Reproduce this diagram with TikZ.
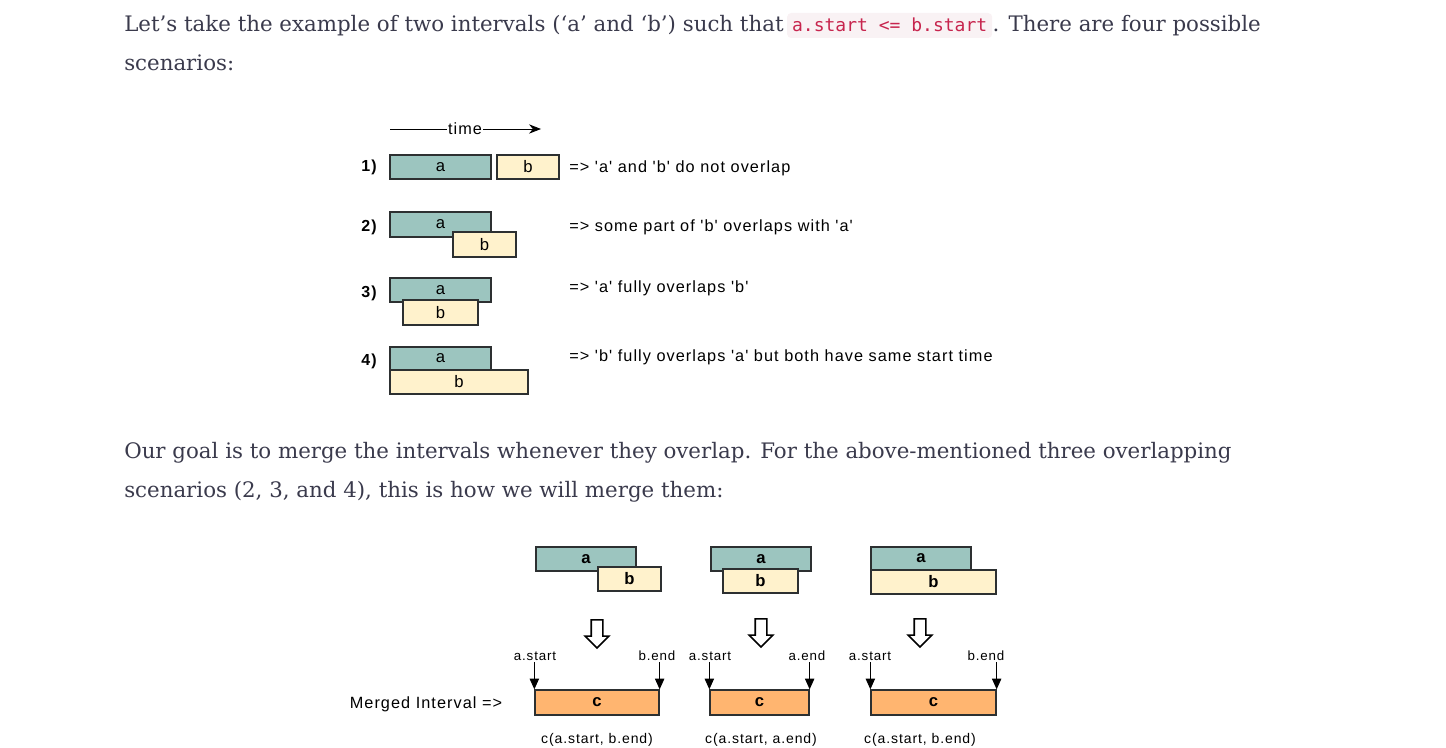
\documentclass[tikz,border=0pt]{standalone}
\usepackage{fontspec}
\setmainfont{Liberation Sans}
\newfontfamily\diagfont[LetterSpace=6.5]{Liberation Sans}
\newfontfamily\bodyfont{DejaVu Serif}
\newfontfamily\codefont{DejaVu Sans Mono}
\usetikzlibrary{arrows.meta,shapes.arrows}
\definecolor{acol}{RGB}{156,197,191}
\definecolor{bcol}{RGB}{255,242,204}
\definecolor{ccol}{RGB}{255,181,112}
\definecolor{edge}{RGB}{45,48,49}
\definecolor{prose}{RGB}{58,58,76}
\definecolor{codered}{RGB}{199,37,78}
\definecolor{codebg}{RGB}{249,242,244}
\newdimen\px \px=0.75pt
\tikzset{
  ivl/.style={draw=edge, line width=1.3\px, inner sep=0pt, font=\diagfont\fontsize{12.5}{14}\selectfont},
  aivl/.style={ivl, fill=acol},
  bivl/.style={ivl, fill=bcol},
  civl/.style={ivl, fill=ccol},
  boldivl/.style={font=\diagfont\bfseries\fontsize{12.5}{14}\selectfont},
  tag/.style={font=\diagfont\bfseries\fontsize{12}{14}\selectfont},
  note/.style={anchor=west, inner sep=0pt, font=\diagfont\fontsize{12.2}{14}\selectfont},
  endpt/.style={inner sep=1pt, font=\diagfont\fontsize{10}{12}\selectfont},
  result/.style={font=\diagfont\fontsize{10.5}{12}\selectfont},
  prose/.style={anchor=base west, inner sep=0pt, text=prose, font=\bodyfont\fontsize{16}{18}\selectfont},
  code/.style={anchor=base west, fill=codebg, rounded corners=4\px, text=codered,
    inner xsep=5\px, inner ysep=4\px, text height=15\px, text depth=2\px,
    font=\codefont\fontsize{13.5}{16}\selectfont},
  merge/.style={single arrow, draw=black, fill=white, line width=1.6\px, rotate=-90,
    minimum height=28\px, inner xsep=0pt, inner ysep=5\px,
    single arrow head extend=6\px},
  pin/.style={-{Triangle[width=7pt,length=8pt]}, line width=0.9\px},
}
\begin{document}
\begin{tikzpicture}[x=0.75pt,y=-0.75pt]
\useasboundingbox (0,0) rectangle (1446,748);

% prose
\node[prose] (p1) at (124,32) {Let’s take the example of two intervals (‘a’ and ‘b’) such that};
\node[code, xshift=3\px] (cd) at (p1.base east) {a.start <= b.start};
\node[prose] (p2) at (cd.base east) {. There are four possible};
\node[prose] (p3) at (124,71) {scenarios:};

% time axis
\coordinate (t0) at (390,129);
\coordinate (t1) at (541,129);
\draw[-{Stealth[length=9pt,width=7pt]}, line width=0.9\px] (t0) -- (t1);
\node[fill=white, inner sep=0.5pt, font=\diagfont\fontsize{12.2}{14}\selectfont] (tm) at (465,129) {time};

% scenario 1
\node[tag] (n1) at (369,167) {1)};
\node[aivl, minimum width=101\px, minimum height=24\px] (a1) at (440.5,167) {a};
\node[bivl, minimum width=62\px, minimum height=24\px] (b1) at (528,167) {b};
\node[note] (d1) at (569,168) {=> 'a' and 'b' do not overlap};

% scenario 2
\node[tag] (n2) at (369,227) {2)};
\node[aivl, minimum width=101\px, minimum height=25\px] (a2) at (440.5,224.5) {a};
\node[bivl, minimum width=63\px, minimum height=25\px] (b2) at (484.5,244.5) {b};
\node[note] (d2) at (569,227) {=> some part of 'b' overlaps with 'a'};

% scenario 3
\node[tag] (n3) at (369,293) {3)};
\node[aivl, minimum width=101\px, minimum height=24\px] (a3) at (440.5,290) {a};
\node[bivl, minimum width=75\px, minimum height=25\px] (b3) at (440.5,312.5) {b};
\node[note] (d3) at (569,288) {=> 'a' fully overlaps 'b'};

% scenario 4
\node[tag] (n4) at (369,361) {4)};
\node[aivl, minimum width=101\px, minimum height=23\px] (a4) at (440.5,358.5) {a};
\node[bivl, minimum width=138\px, minimum height=24\px] (b4) at (459,382) {b};
\node[note] (d4) at (569,357) {=> 'b' fully overlaps 'a' but both have same start time};

% prose
\node[prose] (p4) at (124,459) {Our goal is to merge the intervals whenever they overlap. For the above-mentioned three overlapping};
\node[prose] (p5) at (124,497) {scenarios (2, 3, and 4), this is how we will merge them:};

% merged intervals
\node[aivl, boldivl, minimum width=100\px, minimum height=24\px] (ma1) at (586,559) {a};
\node[bivl, boldivl, minimum width=63\px, minimum height=24\px] (mb1) at (629.5,579) {b};
\node[aivl, boldivl, minimum width=100\px, minimum height=24\px] (ma2) at (761,559) {a};
\node[bivl, boldivl, minimum width=75\px, minimum height=24\px] (mb2) at (760.5,581) {b};
\node[aivl, boldivl, minimum width=100\px, minimum height=23\px] (ma3) at (921,558.5) {a};
\node[bivl, boldivl, minimum width=125\px, minimum height=24\px] (mb3) at (933.5,582) {b};

\node[merge] (m1) at (597,631) {};
\node[merge] (m2) at (761,630) {};
\node[merge] (m3) at (920,630) {};

\node[note, anchor=center] (lbl) at (426,704) {Merged Interval =>};
\node[civl, boldivl, minimum width=124\px, minimum height=25\px] (c1) at (597,702.5) {c};
\node[civl, boldivl, minimum width=99\px, minimum height=25\px] (c2) at (759.5,702.5) {c};
\node[civl, boldivl, minimum width=125\px, minimum height=25\px] (c3) at (933.5,702.5) {c};

\node[endpt] (s1) at (535,656) {a.start};
\node[endpt] (e1) at (657,656) {b.end};
\node[endpt] (s2) at (710,656) {a.start};
\node[endpt] (e2) at (807,656) {a.end};
\node[endpt] (s3) at (870,656) {a.start};
\node[endpt] (e3) at (986,656) {b.end};

\draw[pin] (s1.south -| c1.north west) -- (c1.north west);
\draw[pin] (e1.south -| c1.north east) -- (c1.north east);
\draw[pin] (s2.south -| c2.north west) -- (c2.north west);
\draw[pin] (e2.south -| c2.north east) -- (c2.north east);
\draw[pin] (s3.south -| c3.north west) -- (c3.north west);
\draw[pin] (e3.south -| c3.north east) -- (c3.north east);

\node[result] (r1) at (597,740) {c(a.start, b.end)};
\node[result] (r2) at (761,740) {c(a.start, a.end)};
\node[result] (r3) at (920,740) {c(a.start, b.end)};
\end{tikzpicture}
\end{document}
